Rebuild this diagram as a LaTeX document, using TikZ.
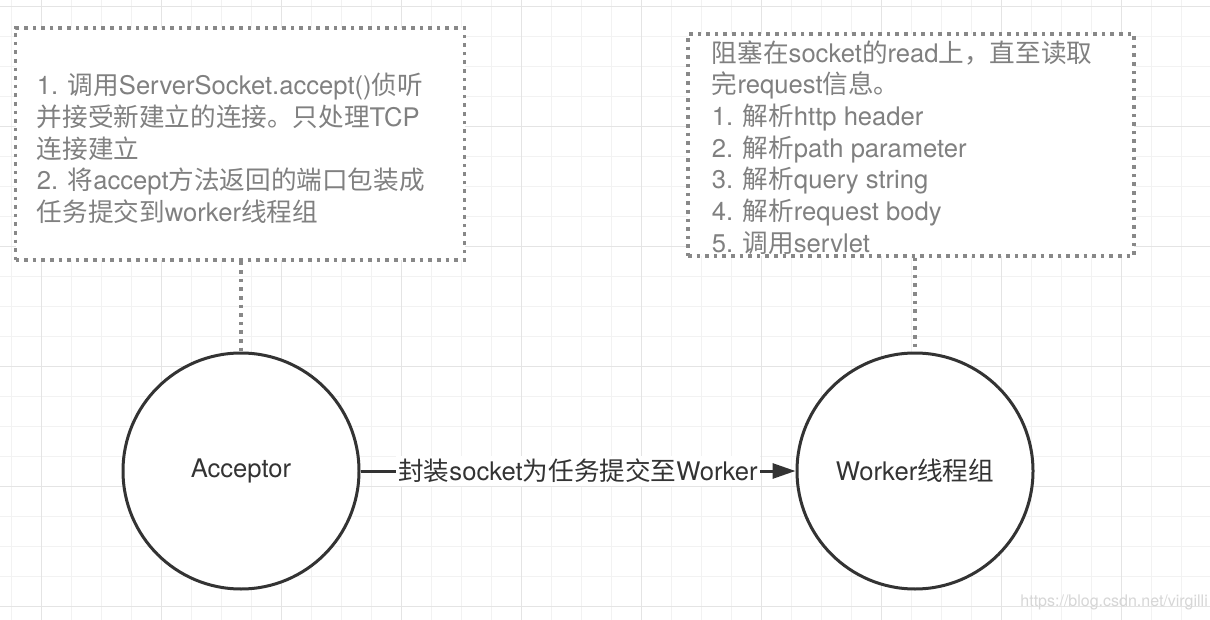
\documentclass[tikz,border=0pt]{standalone}
\usepackage{fontspec}
\setmainfont{TeX Gyre Heros}
\newfontfamily\cjkfont{Noto Sans CJK SC}
\newcommand\zhs[1]{{\cjkfont #1}}
\usetikzlibrary{arrows.meta}
\definecolor{gridminor}{HTML}{F2F2F2}
\definecolor{gridmajor}{HTML}{E4E4E4}
\definecolor{ink}{HTML}{333333}
\definecolor{note}{HTML}{808080}
\definecolor{dotc}{HTML}{888888}
\definecolor{wm}{HTML}{D6D6D6}
\begin{document}
\begin{tikzpicture}[x=1pt,y=-1pt,
  notebox/.style={draw=dotc, line width=3.3pt, dash pattern=on 3.6pt off 5pt, fill=white, rectangle, inner sep=0pt},
  notetext/.style={text=note, align=left, anchor=west, inner sep=0pt, font=\fontsize{25.6}{31.7}\selectfont},
  proc/.style={circle, draw=ink, line width=3pt, fill=white, minimum size=236pt, inner sep=0pt, text=ink, font=\fontsize{25.6}{30}\selectfont},
  dotline/.style={draw=dotc, line width=3.3pt, dash pattern=on 3.6pt off 5pt},
  flow/.style={draw=ink, line width=3pt, -{Triangle[length=23pt,width=15pt]}},
  flowlabel/.style={fill=white, text=ink, inner xsep=2pt, inner ysep=3pt, font=\fontsize{25.6}{30}\selectfont}
]
\useasboundingbox (0,0) rectangle (1210,620);
\fill[white] (0,0) rectangle (1210,620);
% grid
\foreach \gx in {0,...,40} {\draw[gridminor, line width=1.2pt] (11.7+30*\gx,0) -- (11.7+30*\gx,620);}
\foreach \gy in {0,...,20} {\draw[gridminor, line width=1.2pt] (0,6.7+30*\gy) -- (1210,6.7+30*\gy);}
\foreach \gx in {0,...,9} {\draw[gridmajor, line width=1.4pt] (41.7+120*\gx,0) -- (41.7+120*\gx,620);}
\foreach \gy in {0,...,5} {\draw[gridmajor, line width=1.4pt] (0,6.7+120*\gy) -- (1210,6.7+120*\gy);}

% note boxes
\node[notebox, minimum width=449pt, minimum height=232pt] (lbox) at (240,144) {};
\node[notebox, minimum width=446pt, minimum height=222pt] (rbox) at (911,145) {};

\node[notetext] (ltext) at (36.7,148.5) {1. \zhs{调用}ServerSocket.accept()\zhs{侦听}\\
\zhs{并接受新建立的连接。只处理}TCP\\
\zhs{连接建立}\\
2. \zhs{将}accept\zhs{方法返回的端口包装成}\\
\zhs{任务提交到}worker\zhs{线程组}};

\node[notetext] (rtext) at (711.7,147.5) {\zhs{阻塞在}socket\zhs{的}read\zhs{上，直至读取}\\
\zhs{完}request\zhs{信息。}\\
1. \zhs{解析}http header\\
2. \zhs{解析}path parameter\\
3. \zhs{解析}query string\\
4. \zhs{解析}request body\\
5. \zhs{调用}servlet};

% circles
\node[proc] (acc) at (241,471) {Acceptor};
\node[proc] (wrk) at (915,471) {Worker\zhs{线程组}};

% connectors
\draw[dotline] (lbox.south -| acc.north) -- (acc.north);
\draw[dotline] (rbox.south -| wrk.north) -- (wrk.north);
\draw[flow] (acc.east) -- node[flowlabel] (lbl) {\zhs{封装}socket\zhs{为任务提交至}Worker} (wrk.west);

% watermark
\node[anchor=east, text=wm, inner sep=0pt, font=\fontsize{16}{16}\selectfont] (wmark) at (1208,602) {https://blog.csdn.net/virgilli};
\end{tikzpicture}
\end{document}
